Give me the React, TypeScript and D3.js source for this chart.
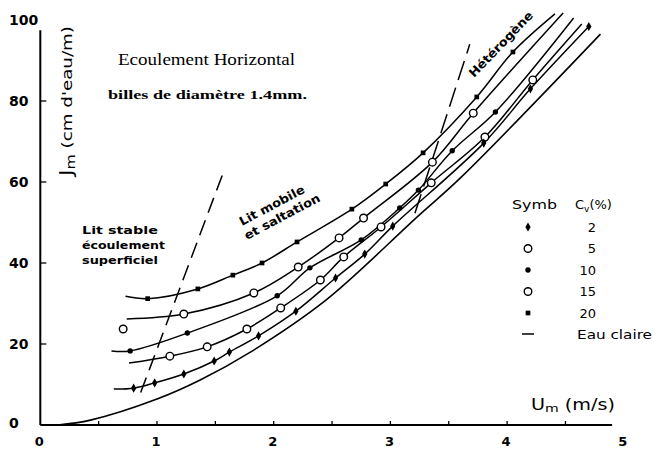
import React from 'react';
import * as d3 from 'd3';

// ---- axis ticks ----
const xTickLabels = [0, 1, 2, 3, 4, 5];
const xMinorTicks = [0.5, 1, 1.5, 2, 2.5, 3, 3.5, 4, 4.5];
const yTickLabels = [0, 20, 40, 60, 80, 100];
const yMinorTicks = [20, 40, 60, 80];

// ---- series (U m/s, J cm d'eau/m) ----
const c20Start = [0.73, 31.8];
const c20Points = [[0.92, 31.2], [1.35, 33.6], [1.65, 37.0], [1.9, 40.0], [2.2, 45.2], [2.67, 53.3], [2.96, 59.5], [3.28, 67.2], [3.74, 81.0], [4.05, 92.1]];
const c20End = [4.41, 101.5];

const c15Start = [0.74, 26.2];
const c15Points = [[1.23, 27.4], [1.83, 32.6], [2.21, 39.0], [2.56, 46.2], [2.77, 51.1], [3.36, 64.9], [3.71, 77.0]];
const c15End = [4.48, 101.7];
const c15Isolated = [[0.71, 23.7]];

const c10Start = [0.61, 18.3];
const c10Points = [[0.77, 18.3], [1.26, 22.7], [2.03, 31.9], [2.31, 38.8], [2.75, 45.7], [3.08, 53.6], [3.24, 58.0], [3.53, 67.7], [3.9, 77.3]];
const c10End = [4.57, 100.5];

const c5Start = [0.76, 15.3];
const c5Points = [[1.11, 17.0], [1.43, 19.3], [1.77, 23.7], [2.06, 28.9], [2.4, 35.8], [2.6, 41.5], [2.92, 48.9], [3.35, 59.8], [3.81, 71.1], [4.22, 85.2]];
const c5End = [4.64, 99.0];

const c2Start = [0.63, 8.9];
const c2Points = [[0.8, 9.1], [0.98, 10.4], [1.23, 12.6], [1.49, 15.8], [1.62, 18.0], [1.87, 22.0], [2.19, 28.1], [2.53, 36.3], [2.78, 42.2], [3.02, 49.1], [3.8, 69.6], [4.2, 83.0], [4.7, 98.4]];

const eauClaire = [[0.15, 0], [0.43, 1.2], [1.0, 6.4], [1.37, 11.1], [1.8, 18.0], [2.45, 30.9], [3.23, 51.4], [3.6, 61.0], [4.8, 96.5]];

const boundaryStable = [[0.86, 8.0], [1.57, 62.5]];
const boundaryHetero = [[3.21, 52.3], [3.68, 94.0]];

const legendLabels = ['2', '5', '10', '15', '20'];
const legendMarkers = ['diamond', 'open', 'dot', 'open', 'square'];

type Pt = number[];

function Marker({ kind, cx, cy }: { kind: string; cx: number; cy: number }) {
  if (kind === 'open') {
    return <circle cx={cx} cy={cy} r={3.8} fill="#fff" stroke="#000" strokeWidth={1.4} />;
  }
  if (kind === 'dot') {
    return <circle cx={cx} cy={cy} r={2.7} fill="#000" />;
  }
  const sym = kind === 'diamond' ? d3.symbolDiamond : d3.symbolSquare;
  const size = kind === 'diamond' ? 24 : 22;
  const p = d3.symbol().type(sym).size(size)();
  return <path d={p || ''} transform={`translate(${cx},${cy})`} fill="#000" />;
}

export default function App() {
  const x = d3.scaleLinear().domain([0, 5]).range([40.3, 623.8]);
  const y = d3.scaleLinear().domain([0, 100]).range([425, 20]);
  const line = d3
    .line<Pt>()
    .x((d) => x(d[0]))
    .y((d) => y(d[1]))
    .curve(d3.curveCatmullRom.alpha(0.5));
  const straight = d3
    .line<Pt>()
    .x((d) => x(d[0]))
    .y((d) => y(d[1]));

  const series = [
    { curve: [c20Start, ...c20Points, c20End], pts: c20Points, marker: 'square' },
    { curve: [c15Start, ...c15Points, c15End], pts: c15Points, marker: 'open' },
    { curve: [c10Start, ...c10Points, c10End], pts: c10Points, marker: 'dot' },
    { curve: [c5Start, ...c5Points, c5End], pts: c5Points, marker: 'open' },
    { curve: [c2Start, ...c2Points], pts: c2Points, marker: 'diamond' },
  ];

  const sansFont = "'DejaVu Sans', sans-serif";
  const serifFont = "'Liberation Serif', 'DejaVu Serif', serif";

  return (
    <svg
      width={654}
      height={451}
      style={{ position: 'absolute', left: 0, top: 0, background: '#fff' }}
    >
      <rect x={0} y={0} width={654} height={451} fill="#fff" />
      {/* axes */}
      <line x1={x(0)} y1={y(0)} x2={x(4.9)} y2={y(0)} stroke="#000" strokeWidth={2} />
      <line x1={x(0)} y1={y(0)} x2={x(0)} y2={y(97.5)} stroke="#000" strokeWidth={2} />
      {xMinorTicks.map((t) => (
        <line key={'xt' + t} x1={x(t)} x2={x(t)} y1={y(0)} y2={y(0) - 4} stroke="#000" strokeWidth={1.3} />
      ))}
      {yMinorTicks.map((t) => (
        <line key={'yt' + t} x1={x(0)} x2={x(0) + 6} y1={y(t)} y2={y(t)} stroke="#000" strokeWidth={1.3} />
      ))}
      {xTickLabels.map((t) => (
        <text key={'xl' + t} x={x(t) - 1} y={441} textAnchor="middle" dominantBaseline="central"
          fontFamily={sansFont} fontWeight="bold" fontSize={13}>{t}</text>
      ))}
      {yTickLabels.map((t) => (
        <text key={'yl' + t} x={9} y={y(t) - (t === 0 ? 2 : 0)} textAnchor="start" dominantBaseline="central"
          fontFamily={sansFont} fontWeight="bold" fontSize={14}>{t}</text>
      ))}

      {/* axis titles */}
      <text transform="translate(72,176) rotate(-90)" fontFamily={sansFont} fontSize={14}
        textLength={150} lengthAdjust="spacingAndGlyphs">
        <tspan fontSize={17}>J</tspan><tspan fontSize={12} dy={3}>m</tspan><tspan dy={-3}>  (cm d'eau/m)</tspan>
      </text>
      <text x={531} y={410} fontFamily={sansFont} fontSize={15} textLength={84} lengthAdjust="spacingAndGlyphs">
        <tspan>U</tspan><tspan fontSize={11} dy={2}>m</tspan><tspan dy={-2}> (m/s)</tspan>
      </text>

      {/* titles */}
      <text x={118} y={65} fontFamily={serifFont} fontSize={16} textLength={177} lengthAdjust="spacingAndGlyphs">
        Ecoulement Horizontal
      </text>
      <text x={108} y={99} fontFamily={serifFont} fontWeight="bold" fontSize={12} textLength={199} lengthAdjust="spacingAndGlyphs">
        billes de diamètre  1.4mm.
      </text>

      {/* region labels */}
      <g fontFamily={sansFont} fontWeight="bold" fontSize={11}>
        <text x={82} y={234} textLength={76} lengthAdjust="spacingAndGlyphs">Lit stable</text>
        <text x={82} y={249} textLength={83} lengthAdjust="spacingAndGlyphs">écoulement</text>
        <text x={82} y={264} textLength={76} lengthAdjust="spacingAndGlyphs">superficiel</text>
      </g>
      <g fontFamily={sansFont} fontWeight="bold" fontSize={12}>
        <text transform="translate(242,226) rotate(-28)" textLength={72} lengthAdjust="spacingAndGlyphs">Lit mobile</text>
        <text transform="translate(247,240) rotate(-28)" textLength={84} lengthAdjust="spacingAndGlyphs">et saltation</text>
        <text transform="translate(474,78) rotate(-46)" textLength={86} lengthAdjust="spacingAndGlyphs">Hétérogène</text>
      </g>

      {/* boundaries */}
      <path d={straight(boundaryStable) || ''} fill="none" stroke="#000" strokeWidth={1.5} strokeDasharray="16,8" />
      <path d={straight(boundaryHetero) || ''} fill="none" stroke="#000" strokeWidth={1.5} strokeDasharray="20,8" />

      {/* curves */}
      <path d={line(eauClaire) || ''} fill="none" stroke="#000" strokeWidth={1.6} />
      {series.map((s, i) => (
        <path key={'c' + i} d={line(s.curve) || ''} fill="none" stroke="#000" strokeWidth={1.5} />
      ))}
      {series.map((s, i) =>
        s.pts.map((p, j) => <Marker key={'m' + i + '-' + j} kind={s.marker} cx={x(p[0])} cy={y(p[1])} />)
      )}
      {c15Isolated.map((p, j) => (
        <Marker key={'iso' + j} kind="open" cx={x(p[0])} cy={y(p[1])} />
      ))}

      {/* legend */}
      <g fontFamily={sansFont} fontSize={13}>
        <text x={512} y={209} textLength={45} lengthAdjust="spacingAndGlyphs">Symb</text>
        <text x={575} y={209}>
          <tspan>C</tspan><tspan fontSize={9} dy={3}>v</tspan><tspan dy={-3}>(%)</tspan>
        </text>
        {legendLabels.map((l, i) => {
          const yy = 227 + i * 21.5;
          return (
            <g key={'lg' + l}>
              <Marker kind={legendMarkers[i]} cx={528} cy={yy} />
              <text x={596} y={yy} textAnchor="end" dominantBaseline="central">{l}</text>
            </g>
          );
        })}
        <line x1={522} x2={534} y1={334} y2={334} stroke="#000" strokeWidth={1.5} />
        <text x={577} y={334} dominantBaseline="central" textLength={75} lengthAdjust="spacingAndGlyphs">Eau claire</text>
      </g>
    </svg>
  );
}
